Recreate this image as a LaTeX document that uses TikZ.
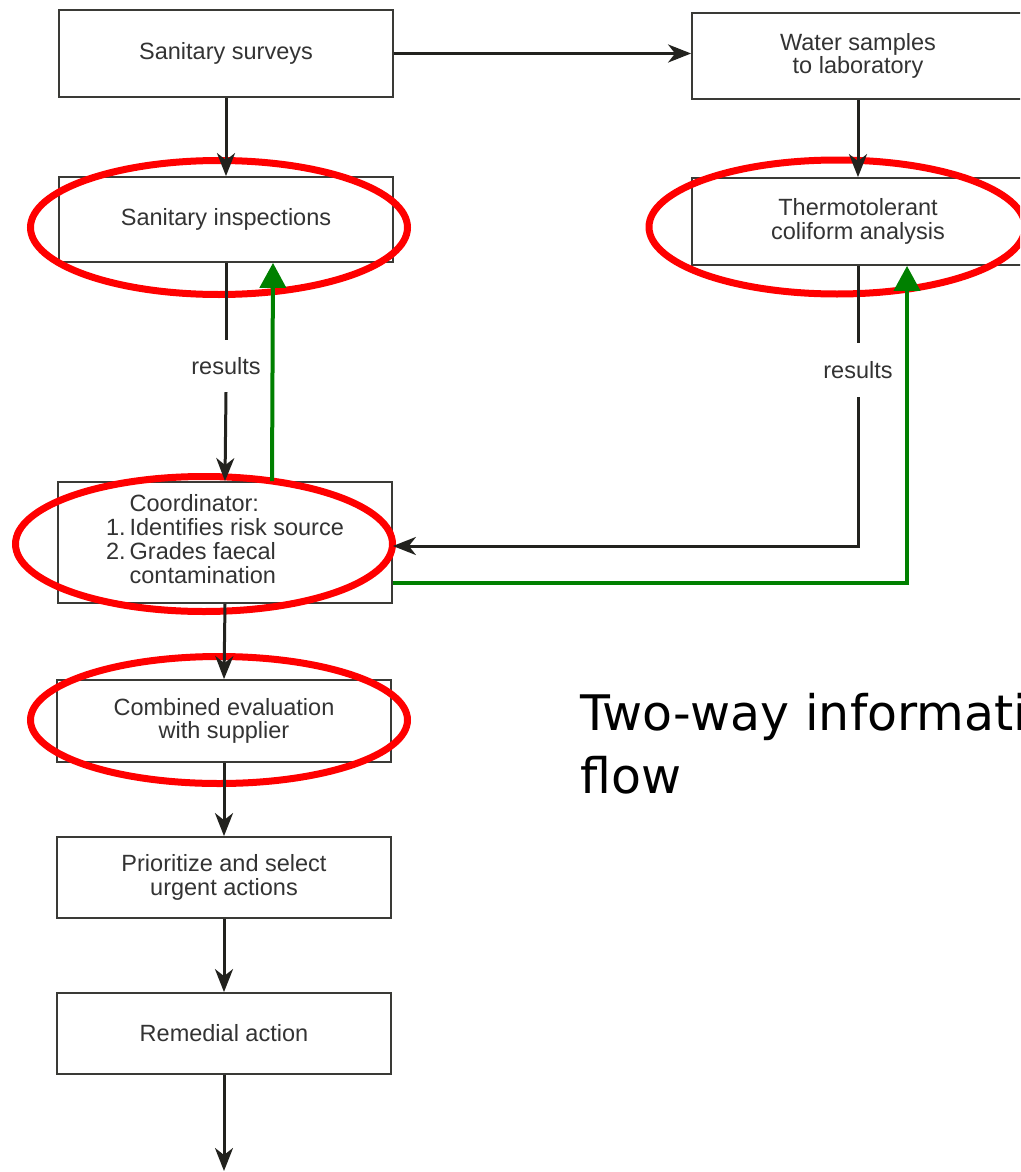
\documentclass[tikz,border=0pt]{standalone}
\usepackage{fontspec}
\setmainfont{Liberation Sans}
\newfontfamily\bigfont{DejaVu Sans}
\usetikzlibrary{arrows.meta}
\definecolor{boxgray}{HTML}{3A3A36}
\definecolor{txtgray}{HTML}{333333}
\definecolor{lineblack}{HTML}{22221E}
\definecolor{ringred}{RGB}{255,0,0}
\definecolor{flowgreen}{RGB}{0,128,0}
\begin{document}
\begin{tikzpicture}[x=1pt,y=-1pt,
  box/.style={draw=boxgray, line width=1.8pt, minimum width=334pt, inner sep=0pt,
    align=center, font=\fontsize{23.5}{23.5}\selectfont, text=txtgray},
  flowline/.style={line width=3pt, draw=lineblack},
  flowarrow/.style={flowline, -{Stealth[length=23pt,width=18pt,inset=7pt]}},
  lbl/.style={font=\fontsize{23.5}{23.5}\selectfont, text=txtgray, inner sep=0pt},
  ring/.style={draw=ringred, line width=7pt},
  greenarrow/.style={draw=flowgreen, line width=4pt, -{Triangle[length=25pt,width=26pt]}}
]
\useasboundingbox (0,0) rectangle (1020,1172);
\clip (0,0) rectangle (1020,1172);

% boxes
\node[box, minimum height=87pt] (surv) at (226,53.5) {Sanitary surveys};
\node[box, minimum height=85pt] (insp) at (226,219.5) {Sanitary inspections};
\node[box, minimum height=121pt] (coord) at (225,542.5) {%
  \begin{tabular}{@{}r@{\,}l@{}}
   & Coordinator:\\
  1. & Identifies risk source\\
  2. & Grades faecal\\
   & contamination
  \end{tabular}};
\node[box, minimum height=82pt] (comb) at (224,721) {Combined evaluation\\with supplier};
\node[box, minimum height=81pt] (prio) at (224,877.5) {Prioritize and select\\urgent actions};
\node[box, minimum height=81pt] (rem) at (224,1033.5) {Remedial action};
\node[box, minimum height=86pt, minimum width=332pt] (water) at (858,56) {Water samples\\to laboratory};
\node[box, minimum height=87pt, minimum width=332pt] (thermo) at (858,221.5) {Thermotolerant\\coliform analysis};

% labels on connectors
\node[lbl, minimum height=52pt] (res1) at (226,366) {results};
\node[lbl, minimum height=54pt] (res2) at (858,370) {results};
\coordinate (endpt) at (224,1171);

% big caption
\node[anchor=base west, inner sep=0pt, align=left,
  font=\bigfont\fontsize{49}{63}\selectfont] (note) at (580,793)
  {Two-way information\\flow};

% red rings
\draw[ring] (219,227.5) ellipse [x radius=188.5, y radius=67];
\draw[ring] (837,227) ellipse [x radius=188, y radius=67];
\draw[ring] (204,544) ellipse [x radius=188.5, y radius=67.5];
\draw[ring] (219,720) ellipse [x radius=188.5, y radius=63.5];

% black connectors
\draw[flowarrow] (surv.east) -- (surv.east -| water.west);
\draw[flowarrow] (surv.south) -- (insp.north);
\draw[flowline] (insp.south) -- (res1.north);
\draw[flowarrow] (res1.south) -- (coord.north);
\draw[flowarrow] (water.south) -- (thermo.north);
\draw[flowline] (thermo.south) -- (res2.north);
\draw[flowarrow] (res2.south) |- ([yshift=-3.5pt]coord.east);
\draw[flowarrow] (coord.south) -- (comb.north);
\draw[flowarrow] (comb.south) -- (prio.north);
\draw[flowarrow] (prio.south) -- (rem.north);
\draw[flowarrow] (rem.south) -- (endpt);

% green feedback arrows
\draw[greenarrow] ([xshift=47pt]coord.north) -- ([xshift=47pt]insp.south);
\draw[greenarrow] ([yshift=-40.5pt]coord.east) -| ([xshift=49pt]thermo.south);
\end{tikzpicture}
\end{document}
